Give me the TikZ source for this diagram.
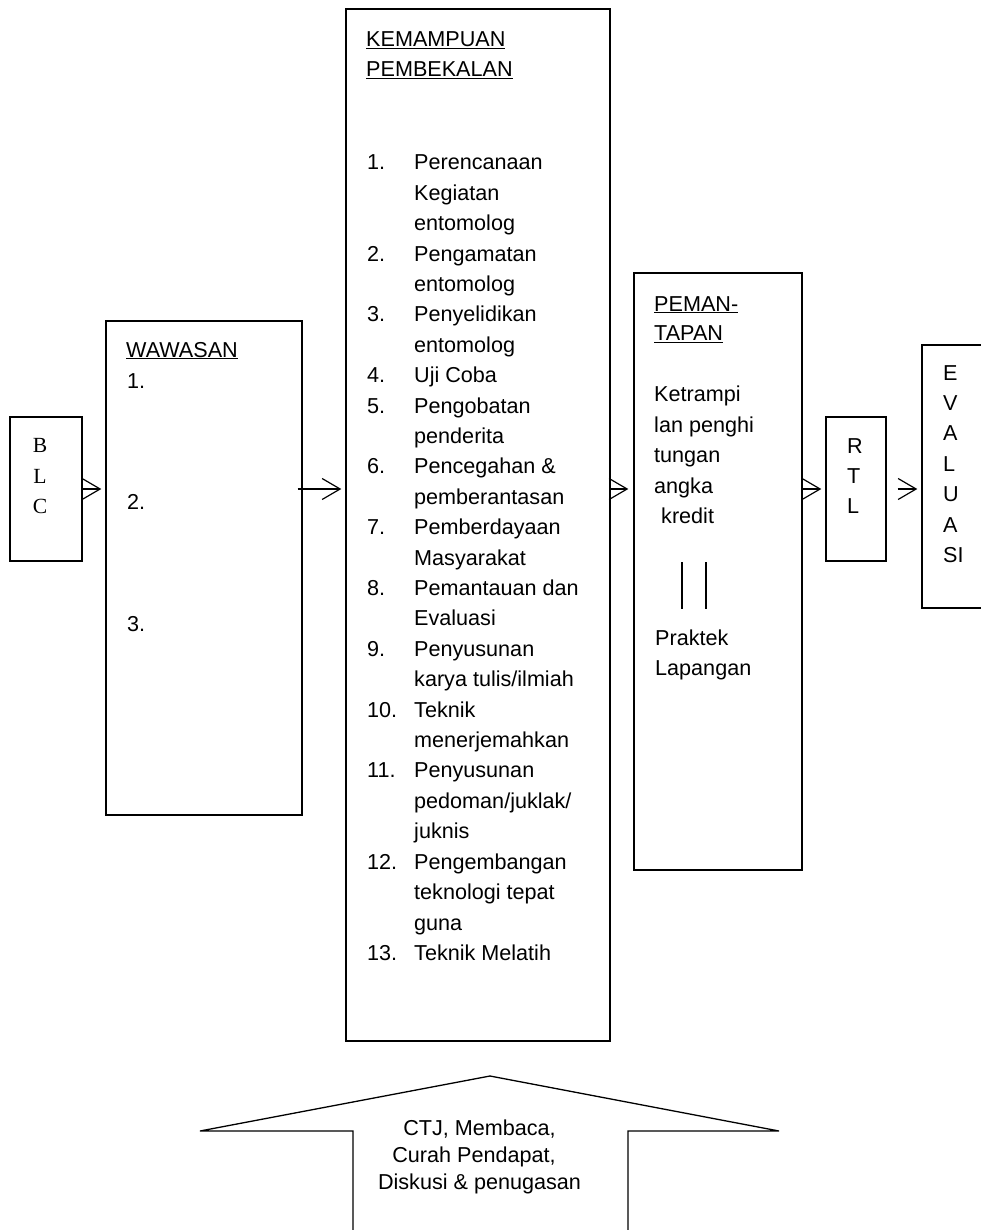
\documentclass[tikz,border=0pt]{standalone}
\usepackage{fontspec}
\setmainfont{Liberation Sans}
\newfontfamily\tnr{Liberation Serif}
\usetikzlibrary{arrows.meta}
\begin{document}
\begin{tikzpicture}[x=1pt,y=-1pt,
  every node/.style={font=\fontsize{21.6}{30.4}\selectfont},
  box/.style={draw, line width=1.4pt, inner sep=0pt},
  txt/.style={anchor=base west, inner sep=0pt},
  ctxt/.style={anchor=base, inner sep=0pt},
  arr/.style={line width=1.2pt, -{Straight Barb[length=18pt,width=21pt,line width=1.2pt]}},
  dbl/.style={line width=1.2pt}]
\useasboundingbox (0,0) rectangle (980,1230);
% boxes
\node[box, minimum width=72pt, minimum height=144pt] (blc) at (46,489) {};
\node[box, minimum width=196pt, minimum height=494pt] (waw) at (204,568) {};
\node[box, minimum width=264pt, minimum height=1032pt] (kem) at (478,525) {};
\node[box, minimum width=168pt, minimum height=597pt] (pem) at (718,571.5) {};
\node[box, minimum width=60pt, minimum height=144pt] (rtl) at (856,489) {};
\node[box, minimum width=100pt, minimum height=263pt] (eva) at (972,476.5) {};
% BLC
\node[ctxt, font=\fontsize{21.6}{30.4}\tnr] (b1) at (40,452.5) {B};
\node[ctxt, font=\fontsize{21.6}{30.4}\tnr] (b2) at (40,483) {L};
\node[ctxt, font=\fontsize{21.6}{30.4}\tnr] (b3) at (40,513.3) {C};
% WAWASAN
\node[txt] (wt) at (126,357) {\underline{WAWASAN}};
\node[txt] (w1) at (127,388) {1.};
\node[txt] (w2) at (127,509.5) {2.};
\node[txt] (w3) at (127,631) {3.};
% KEMAMPUAN
\node[txt] (kt1) at (366,46.5) {\underline{KEMAMPUAN}};
\node[txt] (kt2) at (366,76.5) {\underline{PEMBEKALAN}};
\node[txt] (klist) at (367,170) {\begin{tabular}[t]{@{}p{47pt}@{}l@{}}
1. & Perencanaan\\
 & Kegiatan\\
 & entomolog\\
2. & Pengamatan\\
 & entomolog\\
3. & Penyelidikan\\
 & entomolog\\
4. & Uji Coba\\
5. & Pengobatan\\
 & penderita\\
6. & Pencegahan \&\\
 & pemberantasan\\
7. & Pemberdayaan\\
 & Masyarakat\\
8. & Pemantauan dan\\
 & Evaluasi\\
9. & Penyusunan\\
 & karya tulis/ilmiah\\
10. & Teknik\\
 & menerjemahkan\\
11. & Penyusunan\\
 & pedoman/juklak/\\
 & juknis\\
12. & Pengembangan\\
 & teknologi tepat\\
 & guna\\
13. & Teknik Melatih
\end{tabular}};
% PEMANTAPAN
\node[txt] (pt1) at (654,311) {\underline{PEMAN-}};
\node[txt] (pt2) at (654,340.5) {\underline{TAPAN}};
\node[txt] (p1) at (654,401.5) {Ketrampi};
\node[txt] (p2) at (654,432) {lan penghi};
\node[txt] (p3) at (654,462.5) {tungan};
\node[txt] (p4) at (654,493) {angka};
\node[txt] (p5) at (661,523.5) {kredit};
\draw[dbl] (682,562) -- (682,609);
\draw[dbl] (706,562) -- (706,609);
\node[txt] (p6) at (655,645) {Praktek};
\node[txt] (p7) at (655,675) {Lapangan};
% RTL
\node[txt] (r1) at (847,453) {R};
\node[txt] (r2) at (847,483) {T};
\node[txt] (r3) at (847,513.3) {L};
% EVALUASI
\node[txt] (e1) at (943,380) {E};
\node[txt] (e2) at (943,410.4) {V};
\node[txt] (e3) at (943,440.8) {A};
\node[txt] (e4) at (943,471.2) {L};
\node[txt] (e5) at (943,501.6) {U};
\node[txt] (e6) at (943,532) {A};
\node[txt] (e7) at (943,562.4) {SI};
% arrows
\draw[arr, shorten >=4pt] (blc.east) -- (blc.east -| waw.west);
\draw[arr, shorten <=-5pt, shorten >=4pt] (blc.east -| waw.east) -- (blc.east -| kem.west);
\draw[arr, shorten >=5pt] (blc.east -| kem.east) -- (blc.east -| pem.west);
\draw[arr, shorten >=4pt] (blc.east -| pem.east) -- (rtl.west);
\draw[arr, shorten <=11pt, shorten >=4pt] (rtl.east) -- (rtl.east -| eva.west);
% bottom block arrow
\draw[line width=1.3pt, line join=miter] (353,1236) -- (353,1131) -- (200,1131) -- (490,1076)
  -- (779,1131) -- (628,1131) -- (628,1236);
\node[ctxt] (c1) at (479.5,1135) {CTJ, Membaca,};
\node[ctxt] (c2) at (474,1162) {Curah Pendapat,};
\node[ctxt] (c3) at (479.5,1189) {Diskusi \& penugasan};
\end{tikzpicture}
\end{document}
